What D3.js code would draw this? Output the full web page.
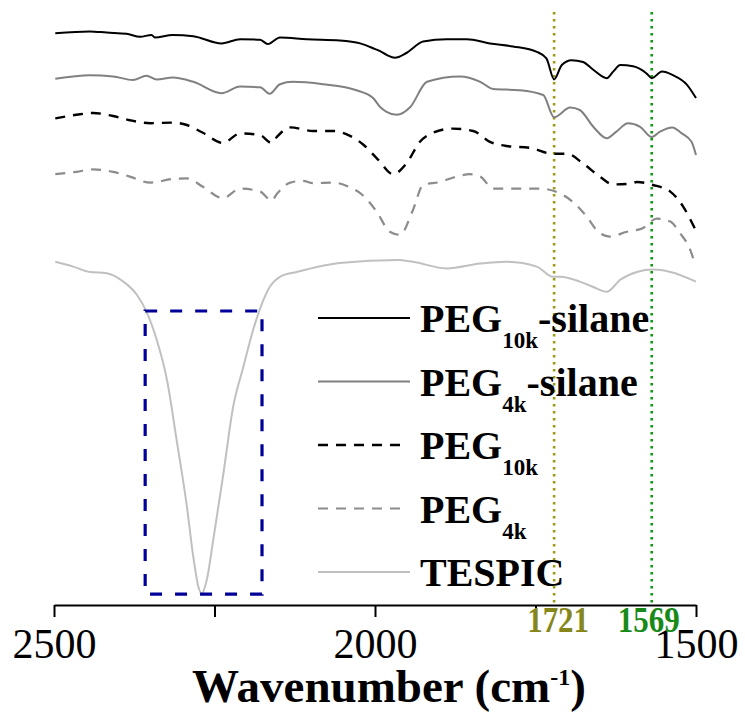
<!DOCTYPE html>
<html><head><meta charset="utf-8">
<script src="https://cdn.jsdelivr.net/npm/d3@7"></script>
<style>
body{margin:0;background:#fff}
svg{display:block}
text{font-family:"Liberation Serif","Times New Roman",Times,serif}
</style>
</head><body><svg id="c" width="745" height="718"></svg>
<script>
// ---- data (wavenumber in cm-1, transmittance in arbitrary offset units) ----
const peg10kSilaneWn = [2498,2444,2418,2387,2366,2348,2343,2315,2283,2239,2210,2179,2167,2148,2106,2055,2023,2003,1992,1982,1969,1951,1925,1888,1857,1821,1785,1748,1733,1721,1709,1694,1676,1660,1639,1629,1618,1598,1577,1569,1553,1536,1514,1500];
const peg10kSilaneT  = [95.3,95.6,95.4,95.2,94.7,95.0,94.6,95.0,94.8,93.6,94.3,94.2,93.5,94.6,94.3,94.1,93.6,92.8,92.3,91.7,91.2,92.0,93.9,94.3,94.3,93.6,93.1,92.2,91.1,87.6,90.0,90.8,90.5,89.2,87.8,88.9,90.0,89.8,88.6,87.8,88.9,88.3,86.7,84.5];

const peg4kSilaneWn = [2498,2444,2408,2377,2356,2340,2315,2283,2239,2210,2179,2164,2148,2128,2081,2029,2003,1992,1982,1966,1945,1919,1868,1836,1816,1774,1738,1721,1696,1681,1660,1639,1624,1606,1587,1569,1556,1537,1522,1507,1500];
const peg4kSilaneT  = [87.7,88.3,88.1,87.5,88.2,87.6,87.9,87.2,85.3,86.4,86.3,85.2,86.8,87.2,86.8,85.8,84.5,83.0,82.2,81.7,83.0,87.2,88.1,87.2,86.0,85.8,85.0,81.3,82.9,82.5,79.7,77.8,78.9,80.3,79.7,78.0,78.9,79.6,78.6,77.2,75.0];

const peg10kWn = [2498,2465,2439,2408,2382,2350,2315,2293,2268,2237,2210,2179,2161,2153,2132,2097,2065,2039,2019,1995,1972,1951,1930,1910,1879,1847,1821,1795,1759,1723,1701,1676,1650,1629,1603,1592,1567,1540,1520,1502];
const peg10kT  = [81.1,81.7,82.0,81.5,80.8,80.3,80.4,80.0,78.7,77.0,78.6,78.3,77.0,78.0,79.6,79.0,79.0,78.2,76.8,74.2,71.8,73.6,77.2,78.7,79.4,79.0,77.2,76.5,76.2,75.2,75.2,73.6,71.4,70.1,70.2,70.5,70.0,68.9,66.4,62.8];

const peg4kWn = [2498,2465,2439,2408,2382,2350,2315,2293,2268,2237,2210,2179,2161,2153,2132,2112,2097,2065,2039,2019,1997,1977,1961,1941,1925,1899,1873,1852,1836,1816,1785,1743,1712,1692,1670,1655,1634,1608,1583,1561,1540,1525,1509,1502];
const peg4kT  = [71.8,72.2,72.6,72.2,71.4,70.4,71.0,71.1,69.7,67.8,69.4,68.9,67.4,68.5,70.4,70.7,70.3,70.4,69.6,68.3,65.5,62.2,61.7,65.8,70.0,70.5,71.4,71.8,71.4,69.4,69.4,69.4,68.6,67.2,64.7,62.5,61.4,62.2,62.8,64.4,63.9,62.0,59.2,57.0];

const tespicWn = [2498,2470,2444,2418,2392,2371,2356,2340,2324,2309,2293,2283,2275,2270,2262,2252,2236,2221,2205,2190,2179,2164,2148,2122,2055,1964,1941,1888,1836,1795,1748,1723,1712,1681,1660,1639,1618,1592,1567,1540,1500];
const tespicT  = [57.2,56.4,55.5,55.3,53.9,51.7,48.9,44.2,37.5,27.5,16.4,8.0,3.0,1.9,4.2,10.8,22.0,33.0,39.7,45.8,49.4,53.0,54.7,55.5,57.0,57.5,57.2,56.1,56.9,57.2,56.4,54.7,54.7,53.9,53.0,52.2,54.2,55.5,55.9,55.5,53.9];

const seriesNames = ["PEG10k-silane","PEG4k-silane","PEG10k","PEG4k","TESPIC"];
const xTickValues = [2500,2250,2000,1750,1500];
const xTickLabels = ["2500","","2000","","1500"];
const markerWn = [1721,1569];
const markerLabels = ["1721","1569"];
const boxWn = [2358,2176];
const boxT = [1.8,49];

// ---- styles ----
const seriesStyle = [
  {color:"#000000", dash:null, width:2},
  {color:"#808080", dash:null, width:2},
  {color:"#000000", dash:"10,8", width:2.4},
  {color:"#8c8c8c", dash:"10,8", width:2.2},
  {color:"#c0c0c0", dash:null, width:2}
];
const markerLineColor = ["#9a9a14","#119a11"];
const markerTextColor = ["#86861a","#178a17"];

const svg = d3.select("#c");
const x = d3.scaleLinear().domain([2500,1500]).range([54,696]);
const y = d3.scaleLinear().domain([0,100]).range([605,5]);

const series = [
  {wn:peg10kSilaneWn, t:peg10kSilaneT},
  {wn:peg4kSilaneWn, t:peg4kSilaneT},
  {wn:peg10kWn, t:peg10kT},
  {wn:peg4kWn, t:peg4kT},
  {wn:tespicWn, t:tespicT}
];

// vertical marker lines
markerWn.forEach((w,i)=>{
  svg.append("line")
    .attr("x1",x(w)).attr("x2",x(w))
    .attr("y1",12).attr("y2",y(0))
    .attr("stroke",markerLineColor[i]).attr("stroke-width",2.6)
    .attr("stroke-dasharray","2.4,4.6");
});

// curves
const line = d3.line().x(d=>x(d[0])).y(d=>y(d[1])).curve(d3.curveMonotoneX);
series.forEach((s,i)=>{
  const pts = s.wn.map((w,j)=>[w,s.t[j]]);
  const st = seriesStyle[i];
  svg.append("path").datum(pts)
    .attr("d",line)
    .attr("fill","none")
    .attr("stroke",st.color)
    .attr("stroke-width",st.width)
    .attr("stroke-linejoin","round")
    .attr("stroke-dasharray",st.dash);
});

// dashed box
svg.append("rect")
  .attr("x",x(boxWn[0])).attr("y",y(boxT[1]))
  .attr("width",x(boxWn[1])-x(boxWn[0]))
  .attr("height",y(boxT[0])-y(boxT[1]))
  .attr("fill","none").attr("stroke","#000099")
  .attr("stroke-width",3.2).attr("stroke-dasharray","12,13");

// axis
const axis = d3.axisBottom(x).tickValues(xTickValues)
  .tickFormat((d,i)=>xTickLabels[i]).tickSize(12).tickSizeOuter(0).tickPadding(11);
const gA = svg.append("g").attr("transform",`translate(0,${y(0)})`).call(axis);
gA.select(".domain").attr("stroke","#000").attr("stroke-width",2);
gA.selectAll(".tick line").attr("stroke","#000").attr("stroke-width",2);
gA.selectAll(".tick text")
  .attr("font-family",'"Liberation Serif","Times New Roman",serif')
  .attr("font-size",42).attr("fill","#000");

// marker labels (slightly condensed, as in the figure)
markerWn.forEach((w,i)=>{
  svg.append("text")
    .attr("transform",`translate(${x(w)+(i===0?4:-3)},632) scale(0.86,1)`)
    .attr("text-anchor","middle")
    .attr("font-weight","bold").attr("font-size",36)
    .attr("fill",markerTextColor[i])
    .text(markerLabels[i]);
});

// axis title
const title = svg.append("text")
  .attr("x",389).attr("y",702)
  .attr("text-anchor","middle")
  .attr("font-weight","bold").attr("font-size",47);
title.append("tspan").text("Wavenumber (cm");
title.append("tspan").attr("font-size",24).attr("dy",-17).text("-1");
title.append("tspan").attr("font-size",47).attr("dy",17).text(")");

// legend
const legendParts = [
  ["PEG","10k","-silane"],
  ["PEG","4k","-silane"],
  ["PEG","10k",""],
  ["PEG","4k",""],
  ["TESPIC","",""]
];
const legendY0 = 318, legendStep = 63.5;
legendParts.forEach((p,i)=>{
  const ly = legendY0 + i*legendStep;
  const st = seriesStyle[i];
  svg.append("line")
    .attr("x1",318).attr("x2",st.dash?400:410)
    .attr("y1",ly).attr("y2",ly)
    .attr("stroke",st.color).attr("stroke-width",st.width)
    .attr("stroke-dasharray",st.dash);
  const t = svg.append("text")
    .attr("x",420).attr("y",ly+14)
    .attr("font-weight","bold").attr("font-size",40).attr("fill","#000");
  t.append("tspan").text(p[0]);
  if(p[1]){
    t.append("tspan").attr("font-size",23).attr("dy",16).text(p[1]);
    if(p[2]) t.append("tspan").attr("font-size",40).attr("dy",-16).text(p[2]);
  }
});
</script>
</body></html>
